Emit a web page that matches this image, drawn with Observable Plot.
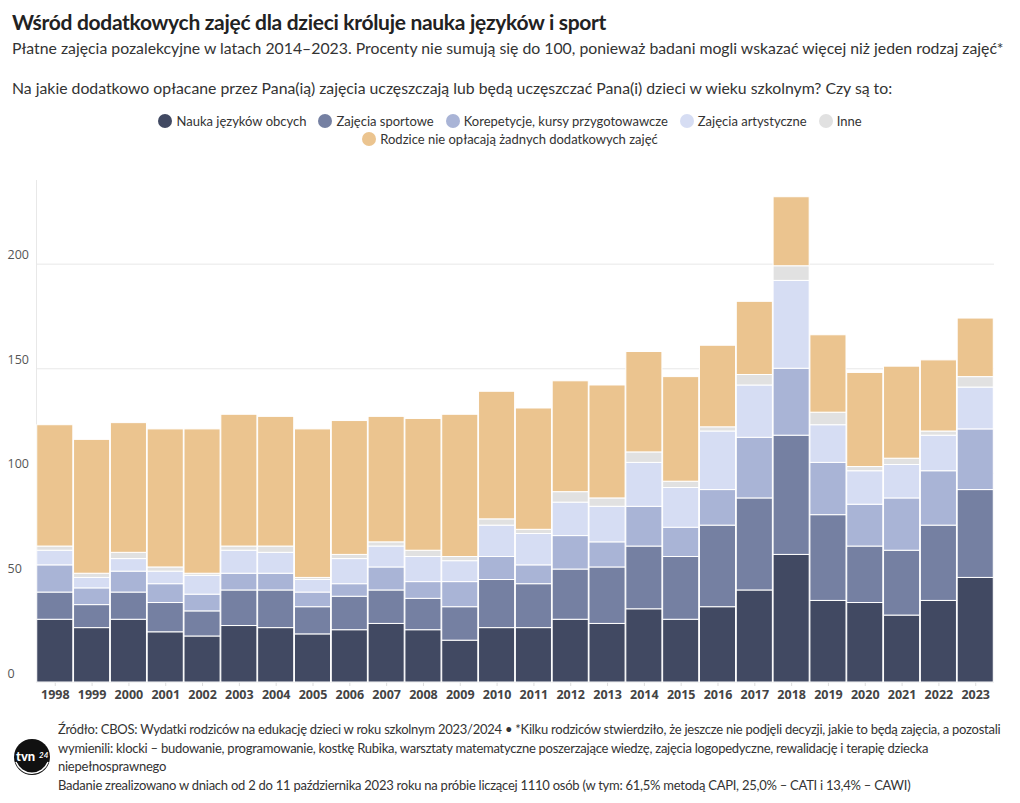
<!DOCTYPE html>
<html><head><meta charset="utf-8">
<script src="https://cdn.jsdelivr.net/npm/d3@7"></script>
<script src="https://cdn.jsdelivr.net/npm/@observablehq/plot@0.6"></script>
<style>
html,body{margin:0;padding:0;background:#fff}
body{width:1020px;height:803px;position:relative;overflow:hidden;font-family:Lato,"Noto Sans",sans-serif;color:#333}
.abs{position:absolute;white-space:nowrap}
#title{left:12px;top:9px;font-size:21px;font-weight:700;color:#222;letter-spacing:-0.3px}
#subtitle{left:12px;top:38px;font-size:15.8px;color:#333}
#question{left:12px;top:78px;font-size:15.8px;color:#333}
#legend{left:0;top:112px;width:1020px;display:flex;flex-direction:column;align-items:center;font-size:13px;color:#333}
.lrow{display:flex;gap:12px;height:18px;align-items:center}
.litem{display:flex;align-items:center;gap:4px}
.sw{width:14px;height:14px;border-radius:50%;display:inline-block}
#chart{left:0;top:170px}
#logo{left:13px;top:738px;width:38px;height:38px}
#footer{left:58px;top:720px;font-size:13px;line-height:18.5px;color:#333;letter-spacing:-0.25px}
</style></head><body>
<div id="title" class="abs">Wśród dodatkowych zajęć dla dzieci króluje nauka języków i sport</div>
<div id="subtitle" class="abs">Płatne zajęcia pozalekcyjne w latach 2014–2023. Procenty nie sumują się do 100, ponieważ badani mogli wskazać więcej niż jeden rodzaj zajęć*</div>
<div id="question" class="abs">Na jakie dodatkowo opłacane przez Pana(ią) zajęcia uczęszczają lub będą uczęszczać Pana(i) dzieci w wieku szkolnym? Czy są to:</div>
<div id="legend" class="abs"></div>
<div id="chart" class="abs"></div>
<svg id="logo" class="abs" viewBox="0 0 38 38">
  <circle cx="19" cy="19" r="18" fill="#111"/>
  <path d="M3 24 A17 17 0 0 0 35 24" fill="none" stroke="#fff" stroke-width="1.5"/>
  <text x="3" y="23" font-family="Lato,sans-serif" font-weight="900" font-size="13" fill="#fff">tvn</text>
  <text x="26" y="20" font-family="Lato,sans-serif" font-weight="700" font-style="italic" font-size="8" fill="#fff">24</text>
</svg>
<div id="footer" class="abs">Źródło: CBOS: Wydatki rodziców na edukację dzieci w roku szkolnym 2023/2024 • *Kilku rodziców stwierdziło, że jeszcze nie podjęli decyzji, jakie to będą zajęcia, a pozostali<br>wymienili: klocki – budowanie, programowanie, kostkę Rubika, warsztaty matematyczne poszerzające wiedzę, zajęcia logopedyczne, rewalidację i terapię dziecka<br>niepełnosprawnego<br>Badanie zrealizowano w dniach od 2 do 11 października 2023 roku na próbie liczącej 1110 osób (w tym: 61,5% metodą CAPI, 25,0% – CATI i 13,4% – CAWI)</div>
<script>
const years = [1998,1999,2000,2001,2002,2003,2004,2005,2006,2007,2008,2009,2010,2011,2012,2013,2014,2015,2016,2017,2018,2019,2020,2021,2022,2023];
const seriesNames = ["Nauka języków obcych","Zajęcia sportowe","Korepetycje, kursy przygotowawcze","Zajęcia artystyczne","Inne","Rodzice nie opłacają żadnych dodatkowych zajęć"];
const seriesColors = ["#414962","#7580a2","#a9b4d6","#d6ddf3","#e1e1e1","#ebc48f"];
const jezyki     = [30,26,30,24,22,27,26,23,25,28,25,20,26,26,30,28,35,30,36,44,61,39,38,32,39,50];
const sport      = [13,11,13,14,12,17,18,13,16,16,15,16,23,21,24,27,30,30,39,44,57,41,27,31,36,42];
const korepetycje= [13, 8,10, 9, 8, 8, 8, 7, 6,11, 8,12,11, 9,16,12,19,14,17,29,32,25,20,25,26,29];
const artystyczne= [ 7, 5, 6, 6, 9,11,10, 6,12,10,12,10,15,15,16,17,21,19,28,25,42,18,16,16,17,20];
const inne       = [ 2, 2, 3, 2, 1, 2, 3, 1, 2, 2, 3, 2, 3, 2, 5, 4, 5, 3, 2, 5, 7, 6, 2, 3, 2, 5];
const zadne      = [58,64,62,66,69,63,62,71,64,60,63,68,61,58,53,54,48,50,39,35,33,37,45,44,34,28];
const yTicks = [0,50,100,150,200];

const seriesValues = [jezyki,sport,korepetycje,artystyczne,inne,zadne];
const data = [];
years.forEach((yr,i)=>{
  seriesNames.forEach((s,j)=>data.push({year:String(yr), series:s, value:seriesValues[j][i]}));
});

// legend
const leg = document.getElementById("legend");
const rows = [seriesNames.slice(0,5), seriesNames.slice(5)];
rows.forEach(r=>{
  const row = document.createElement("div"); row.className="lrow";
  r.forEach(s=>{
    const it=document.createElement("div"); it.className="litem";
    const sw=document.createElement("span"); sw.className="sw"; sw.style.background=seriesColors[seriesNames.indexOf(s)];
    const t=document.createElement("span"); t.textContent=s;
    it.appendChild(sw); it.appendChild(t); row.appendChild(it);
  });
  leg.appendChild(row);
});

const chart = Plot.plot({
  width:1020, height:540,
  marginTop:10, marginBottom:28, marginLeft:36, marginRight:26,
  x:{domain:years.map(String), padding:0.02, round:false, label:null},
  y:{domain:[0,240], label:null},
  color:{domain:seriesNames, range:seriesColors},
  style:{fontFamily:"'Open Sans',sans-serif", background:"#fff"},
  marks:[
    Plot.gridY(yTicks,{stroke:"#e8e8e8", strokeOpacity:1}),
    Plot.ruleX([String(years[0])],{stroke:"#e8e8e8", dx:-18.8}),
    Plot.axisY(yTicks,{tickSize:0, textAnchor:"start", dx:-20, dy:-9, fill:"#555", fontSize:12.5}),
    Plot.axisX({tickSize:4, stroke:"#ddd", tickPadding:4, fill:"#444", fontWeight:"bold", fontSize:12.5}),
    Plot.barY(data,{x:"year", y:"value", fill:"series", stroke:"#fff", strokeWidth:1})
  ]
});
document.getElementById("chart").appendChild(chart);
</script>
</body></html>
